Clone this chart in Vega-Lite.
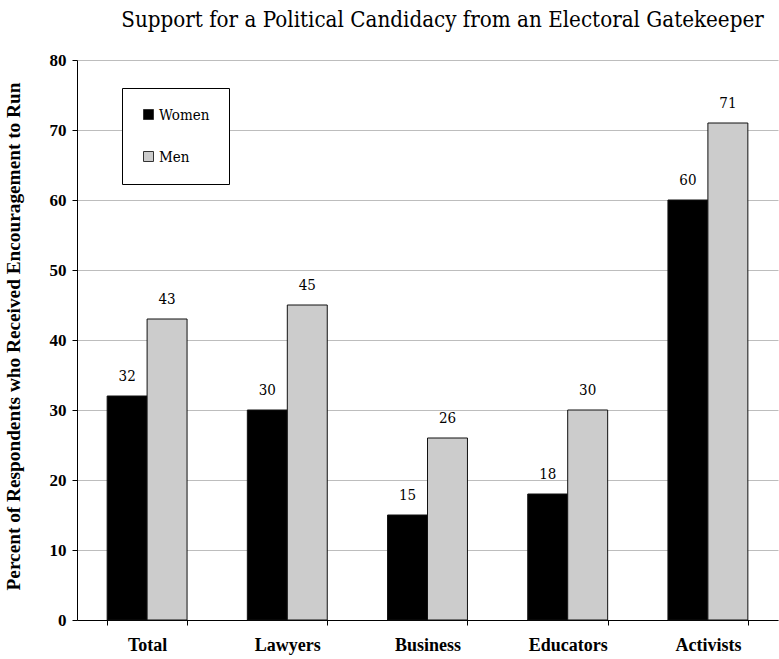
{
  "$schema": "https://vega.github.io/schema/vega-lite/v6.json",
  "width": 701,
  "height": 560,
  "autosize": {"type": "none"},
  "padding": {"left": 77, "top": 60, "right": 1, "bottom": 39},
  "background": "white",
  "title": {
    "text": "Support for a Political Candidacy from an Electoral Gatekeeper",
    "font": "DejaVu Serif Condensed, DejaVu Serif",
    "fontSize": 22.2,
    "fontWeight": 400,
    "color": "#000000",
    "anchor": "middle",
    "dx": 15,
    "offset": 20
  },
  "config": {
    "view": {"stroke": null},
    "font": "Liberation Serif"
  },
  "data": {
    "values": [
      {"group": "Total", "gender": "Women", "value": 32},
      {"group": "Total", "gender": "Men", "value": 43},
      {"group": "Lawyers", "gender": "Women", "value": 30},
      {"group": "Lawyers", "gender": "Men", "value": 45},
      {"group": "Business", "gender": "Women", "value": 15},
      {"group": "Business", "gender": "Men", "value": 26},
      {"group": "Educators", "gender": "Women", "value": 18},
      {"group": "Educators", "gender": "Men", "value": 30},
      {"group": "Activists", "gender": "Women", "value": 60},
      {"group": "Activists", "gender": "Men", "value": 71}
    ]
  },
  "encoding": {
    "x": {
      "field": "group",
      "type": "nominal",
      "sort": ["Total", "Lawyers", "Business", "Educators", "Activists"],
      "scale": {"paddingInner": 0.43, "paddingOuter": 0.215},
      "axis": {
        "title": null,
        "labelAngle": 0,
        "labelFont": "Liberation Serif",
        "labelFontWeight": "bold",
        "labelFontSize": 18,
        "labelColor": "#000000",
        "labelPadding": 11,
        "tickBand": "extent",
        "tickSize": 5,
        "tickColor": "#000000",
        "domainColor": "#000000",
        "grid": false
      }
    },
    "xOffset": {
      "field": "gender",
      "type": "nominal",
      "sort": ["Women", "Men"],
      "scale": {"paddingInner": 0, "paddingOuter": 0}
    },
    "y": {
      "field": "value",
      "type": "quantitative",
      "scale": {"domain": [0, 80]},
      "axis": {
        "title": "Percent of Respondents who Received Encouragement to Run",
        "titleFont": "Liberation Serif",
        "titleFontWeight": "bold",
        "titleFontSize": 19.3,
        "titleColor": "#000000",
        "titleX": -58,
        "titleY": 276,
        "titleAngle": -90,
        "titleAlign": "center",
        "titleBaseline": "alphabetic",
        "values": [0, 10, 20, 30, 40, 50, 60, 70, 80],
        "labelFont": "Liberation Serif",
        "labelFontWeight": "bold",
        "labelFontSize": 17,
        "labelColor": "#000000",
        "labelPadding": 6,
        "tickSize": 5,
        "tickColor": "#000000",
        "domainColor": "#000000",
        "grid": true,
        "gridColor": "#bdbdbd",
        "gridWidth": 1
      }
    }
  },
  "layer": [
    {
      "mark": {"type": "bar", "stroke": "#111111", "strokeWidth": 1},
      "encoding": {
        "color": {
          "field": "gender",
          "type": "nominal",
          "sort": ["Women", "Men"],
          "scale": {"domain": ["Women", "Men"], "range": ["#000000", "#cccccc"]},
          "legend": {
            "title": null,
            "orient": "none",
            "legendX": 45,
            "legendY": 28,
            "direction": "vertical",
            "padding": 19,
            "rowPadding": 26,
            "strokeColor": "#000000",
            "fillColor": "#ffffff",
            "symbolType": "square",
            "symbolSize": 100,
            "symbolStrokeColor": "#333333",
            "symbolStrokeWidth": 1,
            "labelFont": "DejaVu Serif Condensed, DejaVu Serif",
            "labelFontWeight": 400,
            "labelFontSize": 15,
            "labelColor": "#000000",
            "labelOffset": 3
          }
        }
      }
    },
    {
      "mark": {
        "type": "text",
        "font": "DejaVu Serif Condensed, DejaVu Serif",
        "fontSize": 15,
        "baseline": "bottom",
        "dy": -12,
        "color": "#000000"
      },
      "encoding": {
        "text": {"field": "value", "type": "quantitative"}
      }
    }
  ]
}
